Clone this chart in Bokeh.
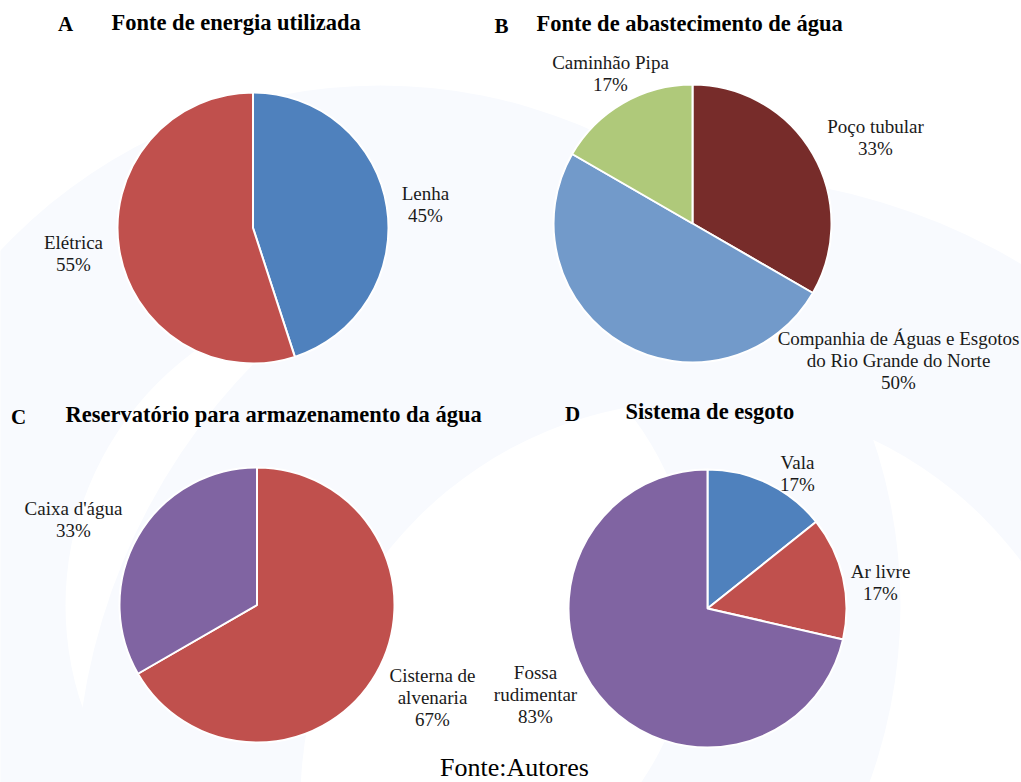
import numpy as np
from bokeh.plotting import figure
from bokeh.models import Range1d, ColumnDataSource
from bokeh.core.properties import value
from bokeh.embed import file_html
from bokeh.resources import INLINE

W, H = 1021, 782

# ---- data ----
a_labels = ["Lenha\n45%", "Elétrica\n55%"]
a_values = [45, 55]
a_colors = ["#4F81BD", "#C0504D"]

b_labels = ["Poço tubular\n33%", "Companhia de Águas e Esgotos\ndo Rio Grande do Norte\n50%", "Caminhão Pipa\n17%"]
b_values = [2, 3, 1]
b_colors = ["#772C2A", "#729ACA", "#AFC97A"]

c_labels = ["Cisterna de\nalvenaria\n67%", "Caixa d'água\n33%"]
c_values = [4, 2]
c_colors = ["#C0504D", "#8064A2"]

d_labels = ["Vala\n17%", "Ar livre\n17%", "Fossa\nrudimentar\n83%"]
d_values = [1, 1, 5]
d_colors = ["#4F81BD", "#C0504D", "#8064A2"]

titles = ["Fonte de energia utilizada", "Fonte de abastecimento de água",
          "Reservatório para armazenamento da água", "Sistema de esgoto"]
letters = ["A", "B", "C", "D"]
source_note = "Fonte:Autores"

# ---- layout (pixel coords from top-left) ----
pies = [
    dict(vals=a_values, cols=a_colors, labs=a_labels, c=(252.5, 227.5), r=135.5,
         lpos=[(425, 204), (73, 253)]),
    dict(vals=b_values, cols=b_colors, labs=b_labels, c=(692, 223), r=139,
         lpos=[(875, 137), (898, 360), (610, 73)]),
    dict(vals=c_values, cols=c_colors, labs=c_labels, c=(256.5, 604.5), r=137.5,
         lpos=[(432, 697), (73, 519)]),
    dict(vals=d_values, cols=d_colors, labs=d_labels, c=(707, 608), r=139,
         lpos=[(797, 473), (880, 582), (535, 694)]),
]
title_pos = [((65, 23), (111, 22)), ((501, 25), (536, 23)),
             ((18, 416), (65, 414)), ((572, 413), (625, 411))]

SERIF = "'Liberation Serif', 'Times New Roman', Times, serif"
LINE_H = 22

p = figure(width=W, height=H, output_backend="svg", toolbar_location=None,
           x_range=Range1d(0, W), y_range=Range1d(0, H), min_border=0)
p.axis.visible = False
p.grid.visible = False
p.outline_line_color = None
p.background_fill_color = "white"
p.border_fill_color = "white"

# faint decorative background rings
p.annulus(x=[380, 700], y=[H - 605, H - 800], inner_radius=[315, 400],
          outer_radius=[520, 625], fill_color="#F8FAFE", line_color=None)

for pie in pies:
    vals = np.array(pie["vals"], dtype=float)
    frac = vals / vals.sum()
    cum = np.concatenate([[0], np.cumsum(frac)])
    starts = np.pi / 2 - 2 * np.pi * cum[:-1]
    ends = np.pi / 2 - 2 * np.pi * cum[1:]
    cx, cy = pie["c"]
    src = ColumnDataSource(dict(x=[cx] * len(vals), y=[H - cy] * len(vals),
                                s=starts, e=ends, c=pie["cols"]))
    p.wedge(x="x", y="y", radius=pie["r"], start_angle="s", end_angle="e",
            direction="clock", fill_color="c", line_color="white", line_width=2,
            source=src)
    # labels
    xs, ys, ts = [], [], []
    for lab, (lx, ly) in zip(pie["labs"], pie["lpos"]):
        lines = lab.split("\n")
        n = len(lines)
        for i, t in enumerate(lines):
            xs.append(lx)
            ys.append(H - (ly + (i - (n - 1) / 2) * LINE_H))
            ts.append(t)
    p.text(x=xs, y=ys, text=ts, text_align="center", text_baseline="middle",
           text_font=value(SERIF), text_font_size="19px",
           text_font_style="normal", text_color="#1a1a1a")

for (lp, tp), let, tit in zip(title_pos, letters, titles):
    p.text(x=[lp[0]], y=[H - lp[1]], text=[let], text_align="center",
           text_baseline="middle", text_font=value(SERIF), text_font_size="21px",
           text_font_style="bold", text_color="black")
    p.text(x=[tp[0]], y=[H - tp[1]], text=[tit], text_align="left",
           text_baseline="middle", text_font=value(SERIF), text_font_size="22.5px",
           text_font_style="bold", text_color="black")

p.text(x=[514], y=[H - 767], text=[source_note], text_align="center",
       text_baseline="middle", text_font=value(SERIF), text_font_size="26px",
       text_font_style="normal", text_color="black")

open("out.html", "w").write(file_html(p, INLINE))
